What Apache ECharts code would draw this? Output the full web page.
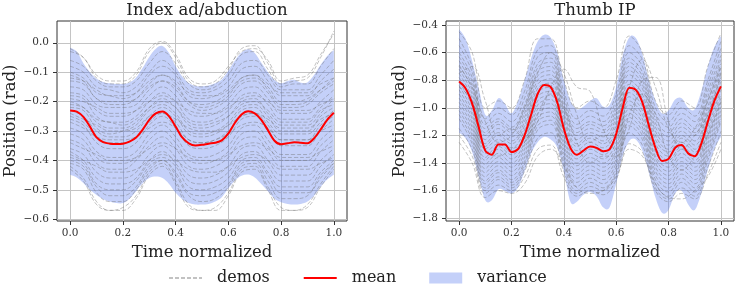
<!DOCTYPE html>
<html>
<head>
<meta charset="utf-8">
<script src="https://cdn.jsdelivr.net/npm/echarts@6.0.0/dist/echarts.min.js"></script>
<style>
	html, body { margin: 0; padding: 0; background: #fff; }
	#chart { width: 737px; height: 286px; }
</style>
</head>
<body>
<div id="chart"></div>
<script>
// time axis samples
const timeFine = [0, 0.025, 0.05, 0.075, 0.1, 0.125, 0.15, 0.175, 0.2, 0.225, 0.25, 0.275, 0.3, 0.325, 0.35, 0.375, 0.4, 0.425, 0.45, 0.475, 0.5,
	0.525, 0.55, 0.575, 0.6, 0.625, 0.65, 0.675, 0.7, 0.725, 0.75, 0.775, 0.8, 0.825, 0.85, 0.875, 0.9, 0.925, 0.95, 0.975, 1.0];
const timeCoarse = [0, 0.05, 0.1, 0.15, 0.2, 0.25, 0.3, 0.35, 0.4, 0.45, 0.5, 0.55, 0.6, 0.65, 0.7, 0.75, 0.8, 0.85, 0.9, 0.95, 1.0];

const xTicks = [0, 0.2, 0.4, 0.6, 0.8, 1.0];
const leftYTicks = [-0.6, -0.5, -0.4, -0.3, -0.2, -0.1, 0.0];
const rightYTicks = [-1.8, -1.6, -1.4, -1.2, -1.0, -0.8, -0.6, -0.4];

// Index ad/abduction
const leftMean = [-0.230, -0.234, -0.252, -0.285, -0.322, -0.338, -0.343, -0.344, -0.343, -0.336, -0.322, -0.295, -0.262, -0.240, -0.234, -0.250, -0.285, -0.322, -0.342, -0.349, -0.347,
	-0.343, -0.340, -0.332, -0.308, -0.272, -0.244, -0.233, -0.240, -0.262, -0.297, -0.333, -0.345, -0.342, -0.338, -0.340, -0.342, -0.325, -0.295, -0.262, -0.238];
const leftUpper = [-0.017, -0.030, -0.070, -0.100, -0.122, -0.133, -0.138, -0.140, -0.140, -0.135, -0.118, -0.085, -0.048, -0.020, -0.011, -0.035, -0.080, -0.115, -0.137, -0.147, -0.148,
	-0.145, -0.138, -0.125, -0.095, -0.060, -0.033, -0.022, -0.035, -0.068, -0.100, -0.127, -0.138, -0.130, -0.126, -0.136, -0.135, -0.110, -0.075, -0.045, -0.025];
const leftLower = [-0.449, -0.458, -0.477, -0.500, -0.518, -0.532, -0.540, -0.545, -0.545, -0.530, -0.505, -0.478, -0.460, -0.455, -0.460, -0.480, -0.510, -0.532, -0.545, -0.550, -0.550,
	-0.548, -0.540, -0.525, -0.495, -0.468, -0.452, -0.448, -0.458, -0.480, -0.505, -0.530, -0.542, -0.548, -0.550, -0.548, -0.540, -0.520, -0.490, -0.465, -0.449];
const leftDemos = [
	[-0.03, -0.05, -0.12, -0.14, -0.14, -0.11, -0.03, 0.00, -0.05, -0.13, -0.15, -0.14, -0.09, -0.02, -0.01, -0.07, -0.14, -0.13, -0.12, -0.05, 0.04],
	[-0.02, -0.05, -0.11, -0.13, -0.13, -0.10, -0.02, 0.005, -0.04, -0.12, -0.14, -0.13, -0.08, -0.03, -0.02, -0.06, -0.13, -0.12, -0.11, -0.04, 0.03],
	[-0.06, -0.08, -0.13, -0.15, -0.15, -0.13, -0.07, -0.03, -0.07, -0.14, -0.16, -0.15, -0.11, -0.04, -0.03, -0.09, -0.15, -0.14, -0.14, -0.08, -0.02],
	[-0.08, -0.10, -0.15, -0.16, -0.17, -0.15, -0.10, -0.06, -0.10, -0.16, -0.17, -0.16, -0.13, -0.07, -0.06, -0.11, -0.16, -0.16, -0.16, -0.11, -0.06],
	[-0.10, -0.12, -0.17, -0.18, -0.19, -0.17, -0.11, -0.08, -0.11, -0.18, -0.19, -0.18, -0.15, -0.09, -0.08, -0.13, -0.18, -0.18, -0.18, -0.13, -0.09],
	[-0.11, -0.13, -0.19, -0.20, -0.20, -0.19, -0.15, -0.13, -0.15, -0.20, -0.21, -0.20, -0.17, -0.13, -0.12, -0.15, -0.20, -0.20, -0.19, -0.16, -0.13],
	[-0.12, -0.13, -0.16, -0.18, -0.18, -0.17, -0.13, -0.11, -0.13, -0.17, -0.18, -0.18, -0.16, -0.12, -0.11, -0.14, -0.17, -0.17, -0.17, -0.14, -0.12],
	[-0.13, -0.14, -0.19, -0.21, -0.21, -0.19, -0.14, -0.11, -0.14, -0.20, -0.22, -0.21, -0.18, -0.12, -0.11, -0.16, -0.21, -0.21, -0.20, -0.16, -0.12],
	[-0.15, -0.16, -0.21, -0.22, -0.22, -0.21, -0.16, -0.13, -0.16, -0.21, -0.23, -0.22, -0.19, -0.14, -0.13, -0.17, -0.22, -0.22, -0.21, -0.17, -0.14],
	[-0.17, -0.18, -0.23, -0.25, -0.25, -0.23, -0.18, -0.15, -0.18, -0.24, -0.25, -0.24, -0.21, -0.16, -0.15, -0.19, -0.24, -0.24, -0.24, -0.20, -0.16],
	[-0.18, -0.19, -0.25, -0.27, -0.27, -0.25, -0.20, -0.17, -0.20, -0.26, -0.27, -0.26, -0.23, -0.18, -0.17, -0.21, -0.26, -0.26, -0.26, -0.22, -0.18],
	[-0.19, -0.20, -0.22, -0.24, -0.24, -0.23, -0.20, -0.18, -0.20, -0.23, -0.24, -0.24, -0.22, -0.19, -0.18, -0.20, -0.23, -0.23, -0.23, -0.21, -0.19],
	[-0.20, -0.22, -0.27, -0.29, -0.29, -0.27, -0.22, -0.19, -0.22, -0.28, -0.29, -0.28, -0.25, -0.20, -0.19, -0.24, -0.28, -0.28, -0.28, -0.24, -0.19],
	[-0.21, -0.22, -0.26, -0.27, -0.28, -0.26, -0.22, -0.20, -0.22, -0.27, -0.28, -0.27, -0.25, -0.21, -0.20, -0.23, -0.27, -0.27, -0.27, -0.23, -0.21],
	[-0.22, -0.23, -0.29, -0.31, -0.30, -0.28, -0.23, -0.21, -0.24, -0.30, -0.31, -0.30, -0.27, -0.22, -0.21, -0.25, -0.30, -0.30, -0.30, -0.25, -0.22],
	[-0.23, -0.25, -0.30, -0.32, -0.32, -0.30, -0.25, -0.22, -0.25, -0.31, -0.32, -0.31, -0.28, -0.23, -0.22, -0.27, -0.31, -0.31, -0.31, -0.27, -0.23],
	[-0.24, -0.26, -0.28, -0.30, -0.30, -0.29, -0.25, -0.24, -0.26, -0.29, -0.30, -0.30, -0.28, -0.25, -0.24, -0.26, -0.29, -0.29, -0.29, -0.26, -0.24],
	[-0.25, -0.27, -0.32, -0.34, -0.34, -0.32, -0.27, -0.24, -0.27, -0.33, -0.34, -0.33, -0.30, -0.25, -0.24, -0.28, -0.33, -0.33, -0.33, -0.28, -0.25],
	[-0.26, -0.28, -0.34, -0.36, -0.36, -0.34, -0.28, -0.25, -0.29, -0.35, -0.36, -0.35, -0.32, -0.26, -0.25, -0.30, -0.35, -0.35, -0.35, -0.30, -0.26],
	[-0.27, -0.29, -0.32, -0.33, -0.33, -0.32, -0.29, -0.27, -0.29, -0.33, -0.34, -0.33, -0.31, -0.28, -0.27, -0.29, -0.33, -0.33, -0.33, -0.30, -0.28],
	[-0.29, -0.31, -0.37, -0.39, -0.39, -0.37, -0.31, -0.28, -0.32, -0.38, -0.39, -0.38, -0.35, -0.29, -0.28, -0.33, -0.38, -0.38, -0.38, -0.33, -0.29],
	[-0.31, -0.33, -0.39, -0.41, -0.41, -0.39, -0.33, -0.30, -0.34, -0.40, -0.41, -0.40, -0.37, -0.31, -0.30, -0.35, -0.40, -0.40, -0.40, -0.35, -0.31],
	[-0.33, -0.35, -0.41, -0.43, -0.43, -0.40, -0.35, -0.32, -0.36, -0.42, -0.43, -0.42, -0.39, -0.33, -0.32, -0.37, -0.42, -0.42, -0.42, -0.37, -0.33],
	[-0.34, -0.36, -0.38, -0.40, -0.40, -0.39, -0.36, -0.34, -0.36, -0.39, -0.40, -0.40, -0.38, -0.35, -0.34, -0.36, -0.39, -0.39, -0.39, -0.37, -0.35],
	[-0.36, -0.38, -0.44, -0.46, -0.46, -0.44, -0.38, -0.35, -0.39, -0.45, -0.46, -0.45, -0.42, -0.36, -0.35, -0.40, -0.45, -0.45, -0.45, -0.40, -0.36],
	[-0.37, -0.40, -0.46, -0.48, -0.48, -0.46, -0.40, -0.37, -0.41, -0.47, -0.48, -0.47, -0.44, -0.38, -0.37, -0.42, -0.47, -0.47, -0.47, -0.42, -0.38],
	[-0.38, -0.40, -0.42, -0.44, -0.44, -0.43, -0.40, -0.38, -0.40, -0.43, -0.44, -0.44, -0.42, -0.39, -0.38, -0.40, -0.43, -0.43, -0.43, -0.41, -0.39],
	[-0.39, -0.41, -0.48, -0.50, -0.50, -0.47, -0.41, -0.39, -0.42, -0.49, -0.50, -0.49, -0.46, -0.40, -0.39, -0.44, -0.49, -0.49, -0.49, -0.44, -0.40],
	[-0.40, -0.42, -0.49, -0.52, -0.52, -0.49, -0.42, -0.40, -0.44, -0.51, -0.52, -0.51, -0.48, -0.41, -0.40, -0.45, -0.51, -0.51, -0.51, -0.45, -0.41],
	[-0.41, -0.43, -0.51, -0.54, -0.54, -0.50, -0.43, -0.40, -0.45, -0.52, -0.54, -0.53, -0.49, -0.42, -0.41, -0.47, -0.53, -0.53, -0.52, -0.46, -0.41],
	[-0.42, -0.46, -0.54, -0.57, -0.56, -0.52, -0.44, -0.41, -0.47, -0.55, -0.57, -0.56, -0.51, -0.43, -0.42, -0.49, -0.56, -0.57, -0.55, -0.48, -0.42],
	[-0.43, -0.47, -0.55, -0.57, -0.57, -0.53, -0.45, -0.42, -0.48, -0.56, -0.57, -0.57, -0.52, -0.44, -0.43, -0.50, -0.57, -0.57, -0.56, -0.49, -0.43]
];

// Thumb IP
const rightMean = [-0.81, -0.86, -0.97, -1.14, -1.31, -1.34, -1.265, -1.265, -1.32, -1.30, -1.20, -1.05, -0.90, -0.835, -0.85, -0.96, -1.15, -1.29, -1.34, -1.31, -1.28,
	-1.29, -1.315, -1.30, -1.19, -1.00, -0.855, -0.87, -0.96, -1.13, -1.29, -1.385, -1.37, -1.29, -1.27, -1.33, -1.35, -1.26, -1.10, -0.95, -0.845];
const rightUpper = [-0.43, -0.50, -0.66, -0.86, -1.05, -1.02, -0.93, -0.97, -1.04, -0.95, -0.80, -0.64, -0.52, -0.47, -0.49, -0.60, -0.80, -0.95, -1.01, -0.99, -0.95,
	-0.93, -0.99, -0.98, -0.85, -0.62, -0.49, -0.495, -0.61, -0.80, -0.95, -1.04, -1.02, -0.94, -0.93, -1.00, -1.01, -0.88, -0.70, -0.56, -0.48];
const rightLower = [-1.18, -1.22, -1.32, -1.50, -1.67, -1.67, -1.59, -1.60, -1.62, -1.58, -1.46, -1.33, -1.25, -1.21, -1.23, -1.29, -1.46, -1.68, -1.68, -1.63, -1.61,
	-1.64, -1.72, -1.72, -1.55, -1.35, -1.24, -1.23, -1.31, -1.47, -1.65, -1.76, -1.74, -1.62, -1.60, -1.70, -1.74, -1.62, -1.45, -1.30, -1.21];
const rightDemos = [
	[-0.45, -0.60, -1.00, -0.95, -1.00, -0.80, -0.50, -0.50, -0.80, -1.00, -0.95, -1.00, -0.80, -0.48, -0.60, -0.95, -1.05, -0.95, -1.00, -0.70, -0.46],
	[-0.50, -0.70, -1.08, -1.00, -1.05, -0.88, -0.58, -0.55, -0.88, -1.08, -1.02, -1.06, -0.90, -0.55, -0.65, -1.00, -1.10, -1.00, -1.06, -0.80, -0.52],
	[-0.55, -0.74, -1.12, -1.04, -1.10, -0.93, -0.63, -0.60, -0.92, -1.12, -1.06, -1.10, -0.94, -0.60, -0.70, -1.04, -1.14, -1.04, -1.10, -0.84, -0.57],
	[-0.60, -0.78, -1.15, -1.08, -1.14, -0.98, -0.68, -0.64, -0.95, -1.15, -1.10, -1.13, -0.98, -0.64, -0.74, -1.08, -1.18, -1.08, -1.15, -0.88, -0.62],
	[-0.63, -0.81, -1.18, -1.10, -1.16, -1.01, -0.71, -0.67, -0.98, -1.18, -1.12, -1.16, -1.01, -0.67, -0.77, -1.11, -1.21, -1.11, -1.18, -0.92, -0.65],
	[-0.66, -0.84, -1.20, -1.12, -1.18, -1.04, -0.74, -0.70, -1.00, -1.20, -1.15, -1.18, -1.04, -0.70, -0.80, -1.14, -1.24, -1.14, -1.20, -0.95, -0.68],
	[-0.69, -0.87, -1.23, -1.15, -1.21, -1.07, -0.77, -0.73, -1.03, -1.23, -1.18, -1.21, -1.07, -0.73, -0.83, -1.17, -1.27, -1.17, -1.24, -0.99, -0.71],
	[-0.72, -0.90, -1.26, -1.18, -1.24, -1.10, -0.80, -0.76, -1.06, -1.26, -1.20, -1.24, -1.10, -0.76, -0.86, -1.20, -1.30, -1.20, -1.27, -1.02, -0.74],
	[-0.75, -0.70, -0.95, -1.20, -1.15, -1.22, -1.10, -0.85, -0.72, -0.85, -0.88, -1.15, -1.30, -1.15, -0.80, -0.78, -1.10, -1.30, -1.20, -1.05, -0.75],
	[-0.70, -0.85, -1.10, -1.25, -1.20, -1.00, -0.75, -0.60, -0.75, -1.05, -1.25, -1.20, -1.20, -0.85, -0.65, -0.85, -1.15, -1.25, -1.15, -0.95, -0.70],
	[-0.75, -0.93, -1.28, -1.20, -1.26, -1.13, -0.83, -0.79, -1.09, -1.28, -1.22, -1.26, -1.13, -0.80, -0.90, -1.23, -1.32, -1.22, -1.30, -1.05, -0.78],
	[-0.78, -0.96, -1.30, -1.23, -1.29, -1.16, -0.86, -0.82, -1.12, -1.31, -1.25, -1.29, -1.16, -0.83, -0.93, -1.26, -1.35, -1.25, -1.32, -1.08, -0.81],
	[-0.81, -0.99, -1.33, -1.26, -1.32, -1.19, -0.89, -0.85, -1.15, -1.34, -1.28, -1.32, -1.19, -0.86, -0.96, -1.29, -1.38, -1.28, -1.35, -1.11, -0.84],
	[-0.84, -1.02, -1.36, -1.28, -1.34, -1.22, -0.92, -0.88, -1.18, -1.37, -1.30, -1.34, -1.22, -0.89, -0.99, -1.32, -1.40, -1.30, -1.38, -1.14, -0.87],
	[-0.85, -0.95, -1.30, -1.35, -1.30, -1.25, -1.05, -0.90, -1.00, -1.25, -1.40, -1.35, -1.35, -1.05, -0.90, -1.05, -1.35, -1.45, -1.35, -1.20, -0.95],
	[-0.87, -1.05, -1.38, -1.30, -1.37, -1.25, -0.95, -0.91, -1.21, -1.40, -1.33, -1.37, -1.25, -0.92, -1.02, -1.35, -1.43, -1.33, -1.40, -1.17, -0.90],
	[-0.90, -1.08, -1.41, -1.33, -1.40, -1.27, -0.98, -0.94, -1.24, -1.42, -1.36, -1.40, -1.28, -0.95, -1.05, -1.37, -1.46, -1.36, -1.43, -1.20, -0.93],
	[-0.93, -1.11, -1.44, -1.36, -1.43, -1.30, -1.01, -0.97, -1.27, -1.45, -1.39, -1.43, -1.31, -0.98, -1.08, -1.40, -1.49, -1.39, -1.46, -1.23, -0.96],
	[-0.96, -1.14, -1.47, -1.39, -1.46, -1.33, -1.04, -1.00, -1.30, -1.48, -1.42, -1.46, -1.34, -1.01, -1.11, -1.43, -1.52, -1.42, -1.49, -1.26, -0.99],
	[-0.99, -1.17, -1.50, -1.42, -1.49, -1.36, -1.07, -1.03, -1.33, -1.51, -1.45, -1.49, -1.37, -1.04, -1.14, -1.46, -1.55, -1.45, -1.52, -1.29, -1.02],
	[-1.02, -1.20, -1.53, -1.45, -1.52, -1.39, -1.10, -1.06, -1.36, -1.54, -1.48, -1.52, -1.40, -1.07, -1.17, -1.49, -1.58, -1.48, -1.55, -1.32, -1.05],
	[-1.05, -1.23, -1.55, -1.47, -1.54, -1.41, -1.13, -1.09, -1.39, -1.57, -1.51, -1.55, -1.43, -1.10, -1.20, -1.52, -1.61, -1.51, -1.58, -1.35, -1.08],
	[-1.08, -1.26, -1.58, -1.50, -1.56, -1.44, -1.16, -1.12, -1.42, -1.60, -1.54, -1.58, -1.46, -1.13, -1.23, -1.55, -1.64, -1.54, -1.61, -1.38, -1.10],
	[-1.15, -1.30, -1.60, -1.52, -1.58, -1.46, -1.22, -1.18, -1.46, -1.62, -1.57, -1.60, -1.48, -1.18, -1.27, -1.58, -1.66, -1.58, -1.64, -1.43, -1.17],
	[-1.20, -1.35, -1.62, -1.56, -1.60, -1.50, -1.30, -1.27, -1.50, -1.64, -1.60, -1.63, -1.52, -1.26, -1.32, -1.60, -1.68, -1.62, -1.66, -1.48, -1.25],
	[-1.25, -1.40, -1.65, -1.60, -1.62, -1.55, -1.35, -1.30, -1.42, -1.58, -1.62, -1.60, -1.50, -1.30, -1.35, -1.55, -1.65, -1.66, -1.60, -1.50, -1.30]
];

const FONT = "DejaVu Serif";
const BAND = "rgba(70,110,235,0.32)";
const DEMO = "rgba(110,110,110,0.42)";

const pairs = (xs, ys) => xs.map((x, i) => [x, ys[i]]);
const fmtTick = v => (v < 0 ? "\u2212" : "") + Math.abs(v).toFixed(1);

// Catmull-Rom through pixel points -> cubic bezier path segments
function curveThrough(pts) {
	let d = "";
	for (let i = 0; i < pts.length - 1; i++) {
		const p0 = pts[i - 1] || pts[i];
		const p1 = pts[i];
		const p2 = pts[i + 1];
		const p3 = pts[i + 2] || p2;
		const c1 = [p1[0] + (p2[0] - p0[0]) / 6, p1[1] + (p2[1] - p0[1]) / 6];
		const c2 = [p2[0] - (p3[0] - p1[0]) / 6, p2[1] - (p3[1] - p1[1]) / 6];
		d += ` C${c1[0]},${c1[1]} ${c2[0]},${c2[1]} ${p2[0]},${p2[1]}`;
	}
	return d;
}

function xAxisFor(gridIndex) {
	return {
		type: "value",
		gridIndex,
		min: -0.05,
		max: 1.05,
		name: "Time normalized",
		nameLocation: "middle",
		nameGap: 20,
		nameTextStyle: { fontFamily: FONT, fontSize: 16.5, color: "#222" },
		axisLine: { show: false, onZero: false },
		axisTick: { show: true, customValues: xTicks, length: 4, lineStyle: { color: "#333" } },
		axisLabel: { customValues: xTicks, formatter: fmtTick, fontFamily: FONT, fontSize: 10.5, color: "#333", margin: 7 },
		splitLine: { show: true, lineStyle: { color: "#c4c4c4", width: 1 } },
	};
}

function yAxisFor(gridIndex, min, max, ticks) {
	return {
		type: "value",
		gridIndex,
		min,
		max,
		name: "Position (rad)",
		nameLocation: "middle",
		nameGap: 38,
		nameTextStyle: { fontFamily: FONT, fontSize: 16.5, color: "#222" },
		axisLine: { show: false, onZero: false },
		axisTick: { show: true, customValues: ticks, length: 4, lineStyle: { color: "#333" } },
		axisLabel: { customValues: ticks, formatter: fmtTick, fontFamily: FONT, fontSize: 10.5, color: "#333", margin: 8 },
		splitLine: { show: true, lineStyle: { color: "#c4c4c4", width: 1 } },
	};
}

function panelSeries(idx, demos, mean, lower, upper) {
	const list = [];
	// variance band: smooth upper edge forward, smooth lower edge back
	list.push({
		type: "custom",
		name: "variance",
		coordinateSystem: "cartesian2d",
		xAxisIndex: idx,
		yAxisIndex: idx,
		data: timeFine.map((t, i) => [t, lower[i], upper[i]]),
		encode: { x: 0, y: [1, 2] },
		renderItem: (params, api) => {
			if (params.dataIndex !== 0) return null;
			const top = timeFine.map((t, i) => api.coord([t, upper[i]]));
			const bottom = timeFine.map((t, i) => api.coord([t, lower[i]])).reverse();
			const d = `M${top[0][0]},${top[0][1]}` + curveThrough(top) +
				` L${bottom[0][0]},${bottom[0][1]}` + curveThrough(bottom) + " Z";
			return { type: "path", shape: { pathData: d }, style: { fill: BAND } };
		},
		itemStyle: { color: BAND },
		silent: true,
		z: 1,
	});
	demos.forEach(d => {
		list.push({
			type: "line",
			name: "demos",
			xAxisIndex: idx,
			yAxisIndex: idx,
			data: pairs(timeCoarse, d),
			smooth: 0.4,
			symbol: "none",
			lineStyle: { color: DEMO, width: 1, type: [4, 2] },
			itemStyle: { color: DEMO, opacity: 0 },
			silent: true,
			z: 2,
		});
	});
	list.push({
		type: "line",
		name: "mean",
		xAxisIndex: idx,
		yAxisIndex: idx,
		data: pairs(timeFine, mean),
		smooth: 0.3,
		symbol: "none",
		lineStyle: { color: "#f00", width: 2 },
		itemStyle: { color: "#f00", opacity: 0 },
		z: 3,
	});
	return list;
}

const chart = echarts.init(document.getElementById("chart"));
chart.setOption({
	animation: false,
	title: [
		{ text: "Index ad/abduction", left: 202, top: -3, textAlign: "center", textStyle: { fontFamily: FONT, fontSize: 16.5, fontWeight: "normal", color: "#222" } },
		{ text: "Thumb IP", left: 590, top: -3, textAlign: "center", textStyle: { fontFamily: FONT, fontSize: 16.5, fontWeight: "normal", color: "#222" } },
	],
	grid: [
		{ left: 57, top: 21, width: 290, height: 200, show: true, borderColor: "#333", borderWidth: 1, backgroundColor: "transparent" },
		{ left: 446, top: 21, width: 288, height: 200, show: true, borderColor: "#333", borderWidth: 1, backgroundColor: "transparent" },
	],
	xAxis: [xAxisFor(0), xAxisFor(1)],
	yAxis: [yAxisFor(0, -0.606, 0.074, leftYTicks), yAxisFor(1, -1.82, -0.371, rightYTicks)],
	legend: {
		left: 163,
		top: 265,
		itemWidth: 33,
		itemHeight: 11,
		itemGap: 33,
		selectedMode: false,
		textStyle: { fontFamily: FONT, fontSize: 16, color: "#222", padding: [0, 0, 0, 10] },
		data: [
			{ name: "demos", itemStyle: { opacity: 0 } },
			{ name: "mean", itemStyle: { opacity: 0 } },
			{ name: "variance", icon: "rect", itemStyle: { color: BAND } },
		],
	},
	series: [
		...panelSeries(0, leftDemos, leftMean, leftLower, leftUpper),
		...panelSeries(1, rightDemos, rightMean, rightLower, rightUpper),
	],
});
</script>
</body>
</html>
